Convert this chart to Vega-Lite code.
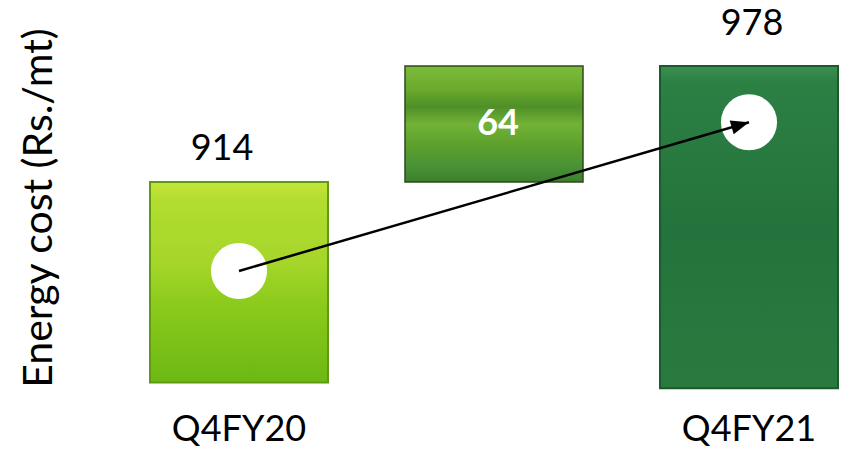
{
  "$schema": "https://vega.github.io/schema/vega-lite/v6.json",
  "width": 688,
  "height": 399,
  "padding": {"left": 150, "top": 8, "right": 3, "bottom": 42},
  "autosize": {"type": "none"},
  "background": "white",
  "config": {"view": {"stroke": null}, "font": "Lato"},
  "datasets": {
    "bars": [
      {"category": "Q4FY20", "base": 803.5, "value": 914, "label": "914", "mid": 858},
      {"category": "Change", "base": 914, "value": 978, "label": "64", "mid": 946},
      {"category": "Q4FY21", "base": 800.3, "value": 978, "label": "978", "mid": 889}
    ],
    "dots": [
      {"category": "Q4FY20", "y": 865},
      {"category": "Q4FY21", "y": 947}
    ]
  },
  "encoding": {
    "x": {
      "field": "category",
      "type": "nominal",
      "scale": {"domain": ["Q4FY20", "Change", "Q4FY21"], "paddingInner": 0.302, "paddingOuter": 0},
      "axis": {
        "title": null,
        "ticks": false,
        "domain": false,
        "labelAngle": 0,
        "labelFontSize": 36,
        "labelFont": "Lato",
        "labelColor": "#000000",
        "labelPadding": 5,
        "labelExpr": "datum.value == 'Change' ? '' : datum.label"
      }
    }
  },
  "layer": [
    {
      "data": {"name": "bars"},
      "transform": [{"filter": "datum.category == 'Q4FY20'"}],
      "mark": {
        "type": "bar",
        "stroke": "#5f9a12",
        "strokeWidth": 2,
        "color": {
          "gradient": "linear", "x1": 0, "y1": 0, "x2": 0, "y2": 1,
          "stops": [
            {"offset": 0, "color": "#c4e43a"},
            {"offset": 0.1, "color": "#b2dc30"},
            {"offset": 0.4, "color": "#a6d62a"},
            {"offset": 0.6, "color": "#8ccb1c"},
            {"offset": 1, "color": "#6cb814"}
          ]
        }
      },
      "encoding": {
        "y": {"field": "value", "type": "quantitative", "scale": {"domain": [790, 1010], "zero": false, "nice": false},
          "axis": {"title": "Energy cost (Rs./mt)", "titleFontSize": 41, "titleFont": "Lato", "titleFontWeight": "normal", "titleColor": "#000000", "labels": false, "ticks": false, "domain": false, "grid": false, "titlePadding": 90}},
        "y2": {"field": "base"}
      }
    },
    {
      "data": {"name": "bars"},
      "transform": [{"filter": "datum.category == 'Change'"}],
      "mark": {
        "type": "bar",
        "stroke": "#2c4a1c",
        "strokeWidth": 1.5,
        "color": {
          "gradient": "linear", "x1": 0, "y1": 0, "x2": 0, "y2": 1,
          "stops": [
            {"offset": 0, "color": "#7dbb3a"},
            {"offset": 0.2, "color": "#6aaa2c"},
            {"offset": 0.35, "color": "#4f8f28"},
            {"offset": 0.5, "color": "#72b236"},
            {"offset": 0.7, "color": "#5a9e2c"},
            {"offset": 0.85, "color": "#4a9436"},
            {"offset": 1, "color": "#3c7f2c"}
          ]
        }
      },
      "encoding": {
        "y": {"field": "value", "type": "quantitative"},
        "y2": {"field": "base"}
      }
    },
    {
      "data": {"name": "bars"},
      "transform": [{"filter": "datum.category == 'Q4FY21'"}],
      "mark": {
        "type": "bar",
        "stroke": "#1b5a2c",
        "strokeWidth": 2,
        "color": {
          "gradient": "linear", "x1": 0, "y1": 0, "x2": 0, "y2": 1,
          "stops": [
            {"offset": 0, "color": "#3a9050"},
            {"offset": 0.05, "color": "#2c8044"},
            {"offset": 0.5, "color": "#24733c"},
            {"offset": 1, "color": "#2a7a40"}
          ]
        }
      },
      "encoding": {
        "y": {"field": "value", "type": "quantitative"},
        "y2": {"field": "base"}
      }
    },
    {
      "data": {"name": "bars"},
      "transform": [{"filter": "datum.category == 'Q4FY20'"}],
      "mark": {"type": "text", "fontSize": 36, "font": "Lato", "color": "#000000", "baseline": "alphabetic", "dy": -22, "dx": -17},
      "encoding": {
        "y": {"field": "value", "type": "quantitative"},
        "text": {"field": "label"}
      }
    },
    {
      "data": {"name": "bars"},
      "transform": [{"filter": "datum.category == 'Q4FY21'"}],
      "mark": {"type": "text", "fontSize": 36, "font": "Lato", "color": "#000000", "baseline": "alphabetic", "dy": -31, "dx": 3},
      "encoding": {
        "y": {"field": "value", "type": "quantitative"},
        "text": {"field": "label"}
      }
    },
    {
      "data": {"name": "bars"},
      "transform": [{"filter": "datum.category == 'Change'"}],
      "mark": {"type": "text", "fontSize": 36, "font": "Lato", "fontWeight": "bold", "color": "#ffffff", "baseline": "middle", "dx": 4},
      "encoding": {
        "y": {"field": "mid", "type": "quantitative"},
        "text": {"field": "label"}
      }
    },
    {
      "data": {"name": "dots"},
      "mark": {"type": "point", "filled": true, "color": "#ffffff", "opacity": 1, "size": 3150},
      "encoding": {
        "y": {"field": "y", "type": "quantitative"}
      }
    },
    {
      "data": {"name": "dots"},
      "mark": {"type": "line", "color": "#000000", "strokeWidth": 2.5},
      "encoding": {
        "y": {"field": "y", "type": "quantitative"}
      }
    },
    {
      "data": {"name": "dots"},
      "transform": [{"filter": "datum.category == 'Q4FY21'"}],
      "mark": {"type": "point", "filled": true, "color": "#000000", "opacity": 1, "shape": "M0,0L-1,-0.4L-1,0.4Z", "size": 1300, "angle": 343.75},
      "encoding": {
        "y": {"field": "y", "type": "quantitative"}
      }
    }
  ]
}
